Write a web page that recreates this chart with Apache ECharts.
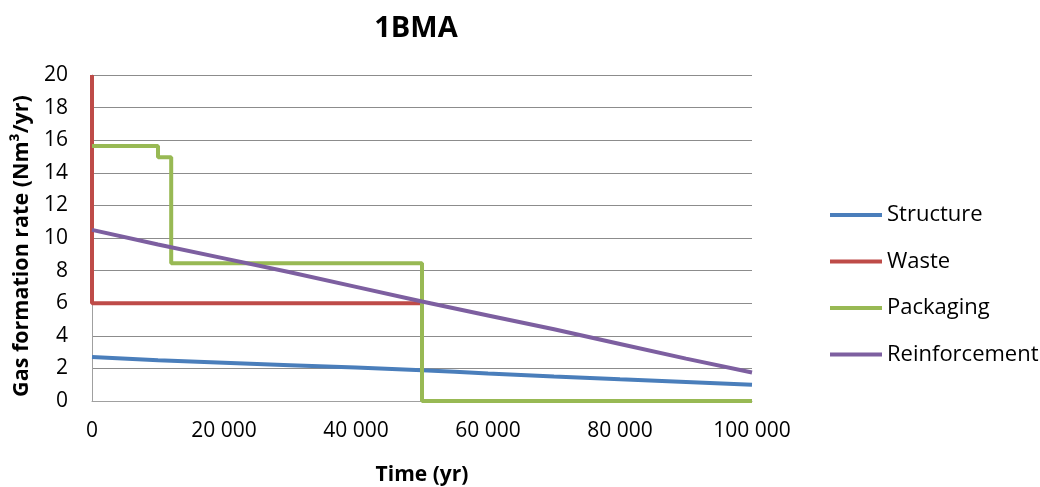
<!DOCTYPE html>
<html><head><meta charset="utf-8">
<script src="https://cdn.jsdelivr.net/npm/echarts@6/dist/echarts.min.js"></script>
<style>html,body{margin:0;padding:0;background:#fff}#c{width:1040px;height:487px}</style>
</head><body><div id="c"></div>
<script>
const title = "1BMA";
const xName = "Time (yr)";
const yName = "Gas formation rate (Nm³/yr)";
const seriesNames = ["Structure", "Waste", "Packaging", "Reinforcement"];
const structure = [[0,2.7],[10000,2.5],[20000,2.35],[30000,2.2],[40000,2.05],[50000,1.88],[55000,1.8],[60000,1.68],[70000,1.5],[80000,1.33],[90000,1.17],[100000,1.0]];
const waste = [[0,20],[0,6],[50000,6]];
const packaging = [[0,15.65],[10000,15.65],[10000,14.95],[12000,14.95],[12000,8.45],[50000,8.45],[50000,0],[100000,0]];
const reinforcement = [[0,10.5],[10000,9.6],[20000,8.75],[30000,7.9],[40000,7.0],[50000,6.1],[60000,5.25],[70000,4.4],[80000,3.5],[90000,2.6],[100000,1.75]];
const colors = ["#4a7ebb", "#be4b48", "#98b954", "#7d5fa0"];
const FONT = "Open Sans";

const chart = echarts.init(document.getElementById('c'));
const dataSets = [structure, waste, packaging, reinforcement];
chart.setOption({
  animation: false,
  color: colors,
  title: { text: title, left: 411, top: 9, textAlign: 'center',
    textStyle: { fontFamily: FONT, fontSize: 29, fontWeight: 'bold', color: '#000' } },
  grid: { left: 92, right: 288, top: 75, bottom: 86, containLabel: false, outerBoundsMode: 'none' },
  legend: { orient: 'vertical', left: 825, top: 199, itemWidth: 52, itemHeight: 4, itemGap: 24.5, icon: 'rect',
    textStyle: { fontFamily: FONT, fontSize: 22, color: '#000', padding: [0,0,0,0] },
    data: seriesNames },
  xAxis: { type: 'value', min: 0, max: 100000, interval: 20000,
    name: xName, nameLocation: 'middle', nameGap: 64,
    nameTextStyle: { fontFamily: FONT, fontSize: 21, fontWeight: 'bold', color: '#000' },
    axisLine: { lineStyle: { color: '#a0a0a0', width: 1 } }, axisTick: { show: false },
    axisLabel: { fontFamily: FONT, fontSize: 21, color: '#000', margin: 20,
      formatter: v => v === 0 ? '0' : (Math.floor(v/1000)) + ' 000' },
    splitLine: { show: false } },
  yAxis: { type: 'value', min: 0, max: 20, interval: 2,
    name: yName, nameLocation: 'middle', nameGap: 58, nameRotate: 90,
    nameTextStyle: { fontFamily: FONT, fontSize: 21.5, fontWeight: 'bold', color: '#000', padding: [0,16,0,0] },
    axisLine: { show: true, lineStyle: { color: '#a0a0a0', width: 1 } }, axisTick: { show: false },
    axisLabel: { fontFamily: FONT, fontSize: 21, color: '#000', margin: 24 },
    splitLine: { lineStyle: { color: '#8c8c8c', width: 1 } } },
  series: seriesNames.map((n, i) => ({
    name: n, type: 'line', data: dataSets[i], showSymbol: false, symbol: 'none',
    lineStyle: { width: 4, color: colors[i] }, itemStyle: { color: colors[i] }
  }))
});
</script></body></html>
